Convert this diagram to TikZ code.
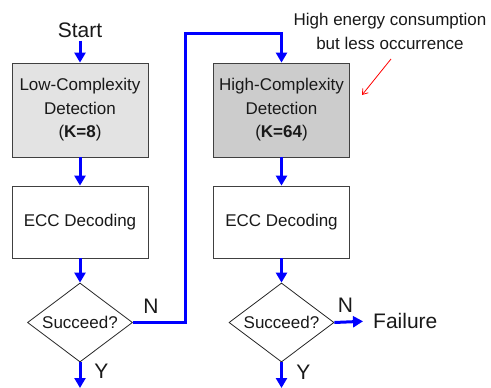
\documentclass[tikz,border=0pt]{standalone}
\usepackage{fontspec}
\setmainfont{Liberation Sans}
\usetikzlibrary{arrows.meta,positioning,calc,shapes.geometric}

\begin{document}
\begin{tikzpicture}[x=1pt, y=-1pt,
            every node/.style={text=black!90, inner sep=3pt},
            block/.style={draw=black!75, line width=0.8pt, rectangle,
                minimum width=136pt, align=center,
                font=\fontsize{17}{23.5}\selectfont},
            decide/.style={draw=black!85, line width=0.8pt, diamond,
                minimum width=105pt, minimum height=79pt, aspect=1.33,
                inner sep=0pt, font=\fontsize{17}{20}\selectfont},
            big/.style={font=\fontsize{21}{25}\selectfont},
            flow/.style={draw=blue, line width=3pt,
                -{Triangle[length=10pt,width=11pt]}}]
        \useasboundingbox (0,0) rectangle (491,388);

        % left column
        \node[big] (nodeStart) at (80,30) {Start};
        \node[block, fill=black!11, minimum height=94pt] (nodeLowDet) at (80,110)
            {Low-Complexity\\Detection\\(\textbf{K=8})};
        \node[block, minimum height=72pt] (nodeEccA) at (80,222) {ECC Decoding};
        \node[decide] (nodeSucA) at (80,322.5) {Succeed?};
        \coordinate (nodeEndA) at (80,388);

        % right column
        \node[block, fill=black!20, minimum height=94pt] (nodeHighDet) at (281.5,110)
            {High-Complexity\\Detection\\(\textbf{K=64})};
        \node[block, minimum height=72pt] (nodeEccB) at (281.5,222) {ECC Decoding};
        \node[decide] (nodeSucB) at (281.5,322.5) {Succeed?};
        \node[big, anchor=west] (nodeFail) at (370,321) {Failure};
        \coordinate (nodeEndB) at (281.5,388);
        \coordinate (nodeTurn) at (185,33);

        % branch labels
        \node[big] (nodeNoA) at (151,306) {N};
        \node[big] (nodeYesA) at (101.5,371.5) {Y};
        \node[big] (nodeNoB) at (345.5,305) {N};
        \node[big] (nodeYesB) at (303.5,372) {Y};

        % note
        \node[align=center, font=\fontsize{17}{24}\selectfont] (nodeNote) at (390,31)
            {High energy consumption\\but less occurrence};
        \coordinate (nodeNoteTail) at (391,59);
        \coordinate (nodeNoteTip) at (362,95);

        \draw[flow] (nodeStart) -- (nodeLowDet);
        \draw[flow] (nodeLowDet) -- (nodeEccA);
        \draw[flow] (nodeEccA) -- (nodeSucA);
        \draw[flow] (nodeSucA) -- (nodeEndA);
        \draw[flow] (nodeSucA.east) -| (nodeTurn) -| (nodeHighDet.north);
        \draw[flow] (nodeHighDet) -- (nodeEccB);
        \draw[flow] (nodeEccB) -- (nodeSucB);
        \draw[flow] (nodeSucB) -- (nodeEndB);
        \draw[flow, shorten >=7pt] (nodeSucB.east) -- (nodeFail.west);
        \draw[red, line width=0.8pt, -{Straight Barb[length=5pt,width=7pt]}]
            (nodeNoteTail) -- (nodeNoteTip);
\end{tikzpicture}
\end{document}
